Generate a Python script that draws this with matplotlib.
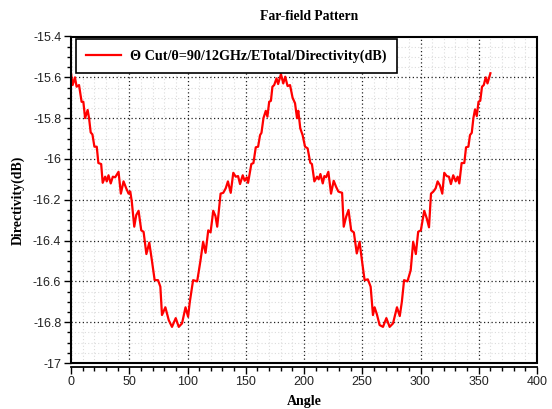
import matplotlib
matplotlib.use("Agg")
import matplotlib.pyplot as plt
from matplotlib.ticker import MultipleLocator, FuncFormatter
from matplotlib.patches import Rectangle

angle = [0, 1.4, 3.4, 4.8, 6.9, 9.1, 10.6, 12.1, 14.3, 15.5, 16.9, 18.4, 20.1, 22.1, 23.5, 25.9,
         27.2, 29.3, 30.7, 32.2, 34.1, 35.9, 37.9, 40.8, 42.8, 45.1, 47.4, 49.4, 50.9, 52.2, 54.3,
         56.0, 58.0, 60.3, 62.3, 64.7, 67.2, 69.5, 71.8, 74.7, 76.7, 78.1, 81.0, 83.9, 86.7,
         89.9, 92.5, 95.3, 98.3, 100.5, 102.0, 104.8, 108.3, 111.2, 113.4, 115.5, 117.8, 119.8,
         122.1, 124.0, 125.5, 128.4, 130.7, 132.8, 134.7, 137.1, 139.3, 141.4, 143.4, 145.1,
         147.4, 149.1, 150.9, 152.0, 154.8, 156.6, 158.6, 160.6, 162.3, 163.5, 165.2, 167.2,
         168.6, 170.1, 171.6, 172.9, 174.4, 176.4, 177.8, 180.2, 182.2, 183.9, 185.9, 188.0,
         190.2, 192.3, 194.0, 195.1, 196.8, 198.8, 200.9, 203.1, 205.4, 206.8, 208.9, 211.2,
         212.6, 214.1, 216.1, 217.5, 219.0, 220.9, 223.2, 225.5, 227.5, 229.5, 232.7, 234.1,
         236.2, 238.2, 240.5, 242.8, 245.3, 247.7, 249.7, 252.0, 254.8, 257.2, 259.2, 260.6,
         262.5, 264.9, 267.8, 270.7, 273.5, 276.4, 279.8, 282.2, 284.0, 285.9, 288.8, 291.6,
         293.7, 296.0, 298.0, 300.3, 303.2, 305.3, 307.3, 309.0, 311.0, 313.0, 314.7, 316.7,
         318.7, 320.4, 322.5, 324.4, 326.1, 328.1, 330.2, 331.9, 333.3, 335.3, 337.6, 339.1,
         341.1, 342.5, 344.0, 345.4, 346.8, 348.3, 349.8, 351.3, 352.8, 354.3, 356.0, 357.5, 360.0]

directivity = [-15.58, -15.638, -15.60, -15.646, -15.638, -15.72, -15.72, -15.80, -15.76, -15.80,
               -15.87, -15.88, -15.94, -15.94, -16.02, -16.025, -16.117, -16.087, -16.11, -16.08,
               -16.12, -16.087, -16.09, -16.063, -16.17, -16.11, -16.144, -16.17, -16.16, -16.21,
               -16.332, -16.275, -16.254, -16.35, -16.357, -16.466, -16.41, -16.50, -16.594,
               -16.594, -16.626, -16.765, -16.727, -16.79, -16.823,
               -16.78, -16.823, -16.806, -16.727, -16.773, -16.70, -16.594, -16.60, -16.496,
               -16.406, -16.46, -16.35, -16.36, -16.254, -16.28, -16.332, -16.17, -16.166,
               -16.144, -16.11, -16.166, -16.068, -16.087, -16.084, -16.123, -16.08, -16.107,
               -16.09, -16.117, -16.025, -16.02, -15.943, -15.94, -15.883, -15.872, -15.80,
               -15.764, -15.793, -15.72, -15.715, -15.646, -15.638, -15.605, -15.633, -15.584,
               -15.63, -15.597, -15.643, -15.638, -15.70, -15.727, -15.80, -15.764, -15.85,
               -15.883, -15.94, -15.948, -16.019, -16.025, -16.11, -16.087, -16.10, -16.074,
               -16.12, -16.084, -16.09, -16.063, -16.17, -16.107, -16.136, -16.16, -16.166,
               -16.332, -16.283, -16.25, -16.35, -16.36, -16.463, -16.406, -16.496, -16.594,
               -16.59, -16.626, -16.765, -16.727, -16.76, -16.814, -16.823, -16.78, -16.823,
               -16.806, -16.727, -16.77, -16.70, -16.594, -16.60, -16.545, -16.406, -16.466,
               -16.357, -16.35, -16.254, -16.29, -16.335, -16.17, -16.16, -16.144, -16.11,
               -16.13, -16.17, -16.068, -16.084, -16.087, -16.123, -16.08, -16.11, -16.087,
               -16.12, -16.02, -16.02, -15.943, -15.94, -15.883, -15.872, -15.80, -15.757,
               -15.79, -15.72, -15.715, -15.646, -15.638, -15.60, -15.63, -15.58]

series_label = "\u0398 Cut/\u03b8=90/12GHz/ETotal/Directivity(dB)"
title = "Far-field Pattern"
xlabel = "Angle"
ylabel = "Directivity(dB)"

plt.rcParams['axes.unicode_minus'] = False
W, H = 552, 409
fig = plt.figure(figsize=(W / 100, H / 100), dpi=100)
L, R, T, B = 71, 537, 36.5, 363
ax = fig.add_axes([L / W, 1 - B / H, (R - L) / W, (B - T) / H])

ax.plot(angle, directivity, color='#ff0000', lw=1.6, label=series_label, zorder=3)

ax.set_xlim(0, 400)
ax.set_ylim(-17, -15.4)
ax.xaxis.set_major_locator(MultipleLocator(50))
ax.xaxis.set_minor_locator(MultipleLocator(10))
ax.yaxis.set_major_locator(MultipleLocator(0.2))
ax.yaxis.set_minor_locator(MultipleLocator(0.05))
ax.yaxis.set_major_formatter(FuncFormatter(lambda v, p: "%g" % round(v, 2)))

ax.grid(which='minor', color='#dcdcdc', linestyle=(0, (1, 2)), lw=0.8)
ax.grid(which='major', color='#222222', linestyle=(0, (1, 2)), lw=0.9)
ax.set_axisbelow(True)

for s in ['top', 'right']:
    ax.spines[s].set_visible(False)
ax.spines['left'].set_linewidth(1.3)
ax.spines['bottom'].set_position(('outward', 2.7))
ax.spines['bottom'].set_linewidth(1.3)
ax.add_patch(Rectangle((0, 0), 1, 1, transform=ax.transAxes, fill=False,
                       edgecolor='black', lw=1.5, zorder=5, clip_on=False))

tickfont = ['Liberation Sans Narrow', 'Liberation Sans', 'DejaVu Sans']
ax.tick_params(which='major', length=5, width=1, labelsize=9, pad=2, colors='black')
ax.tick_params(which='minor', length=3, width=1)
for lab in ax.get_xticklabels() + ax.get_yticklabels():
    lab.set_family(tickfont)
    lab.set_color('#222222')

serif = ['Liberation Serif', 'DejaVu Serif']
fig.text(0.5 * (L + R) / W + 0.01, 1 - 17 / H, title, ha='center', va='center',
         family=serif, fontweight='bold', fontsize=9.8)
fig.text((L + R) / 2 / W, 1 - 401 / H, xlabel, ha='center', va='center',
         family=serif, fontweight='bold', fontsize=10)
fig.text(18 / W, 1 - 200 / H, ylabel, ha='center', va='center', rotation=90,
         family=serif, fontweight='bold', fontsize=10)

leg = ax.legend(loc='upper left', bbox_to_anchor=((75.7 - L) / (R - L), 1 - (39.5 - T) / (B - T)),
                borderaxespad=0, frameon=True, fancybox=False, framealpha=1,
                edgecolor='black', handlelength=2.5, handletextpad=0.65, borderpad=0.7,
                prop={'family': serif, 'weight': 'bold', 'size': 10.2})
leg.get_frame().set_linewidth(1.2)
leg.set_zorder(6)

fig.savefig('out.png', dpi=100)
